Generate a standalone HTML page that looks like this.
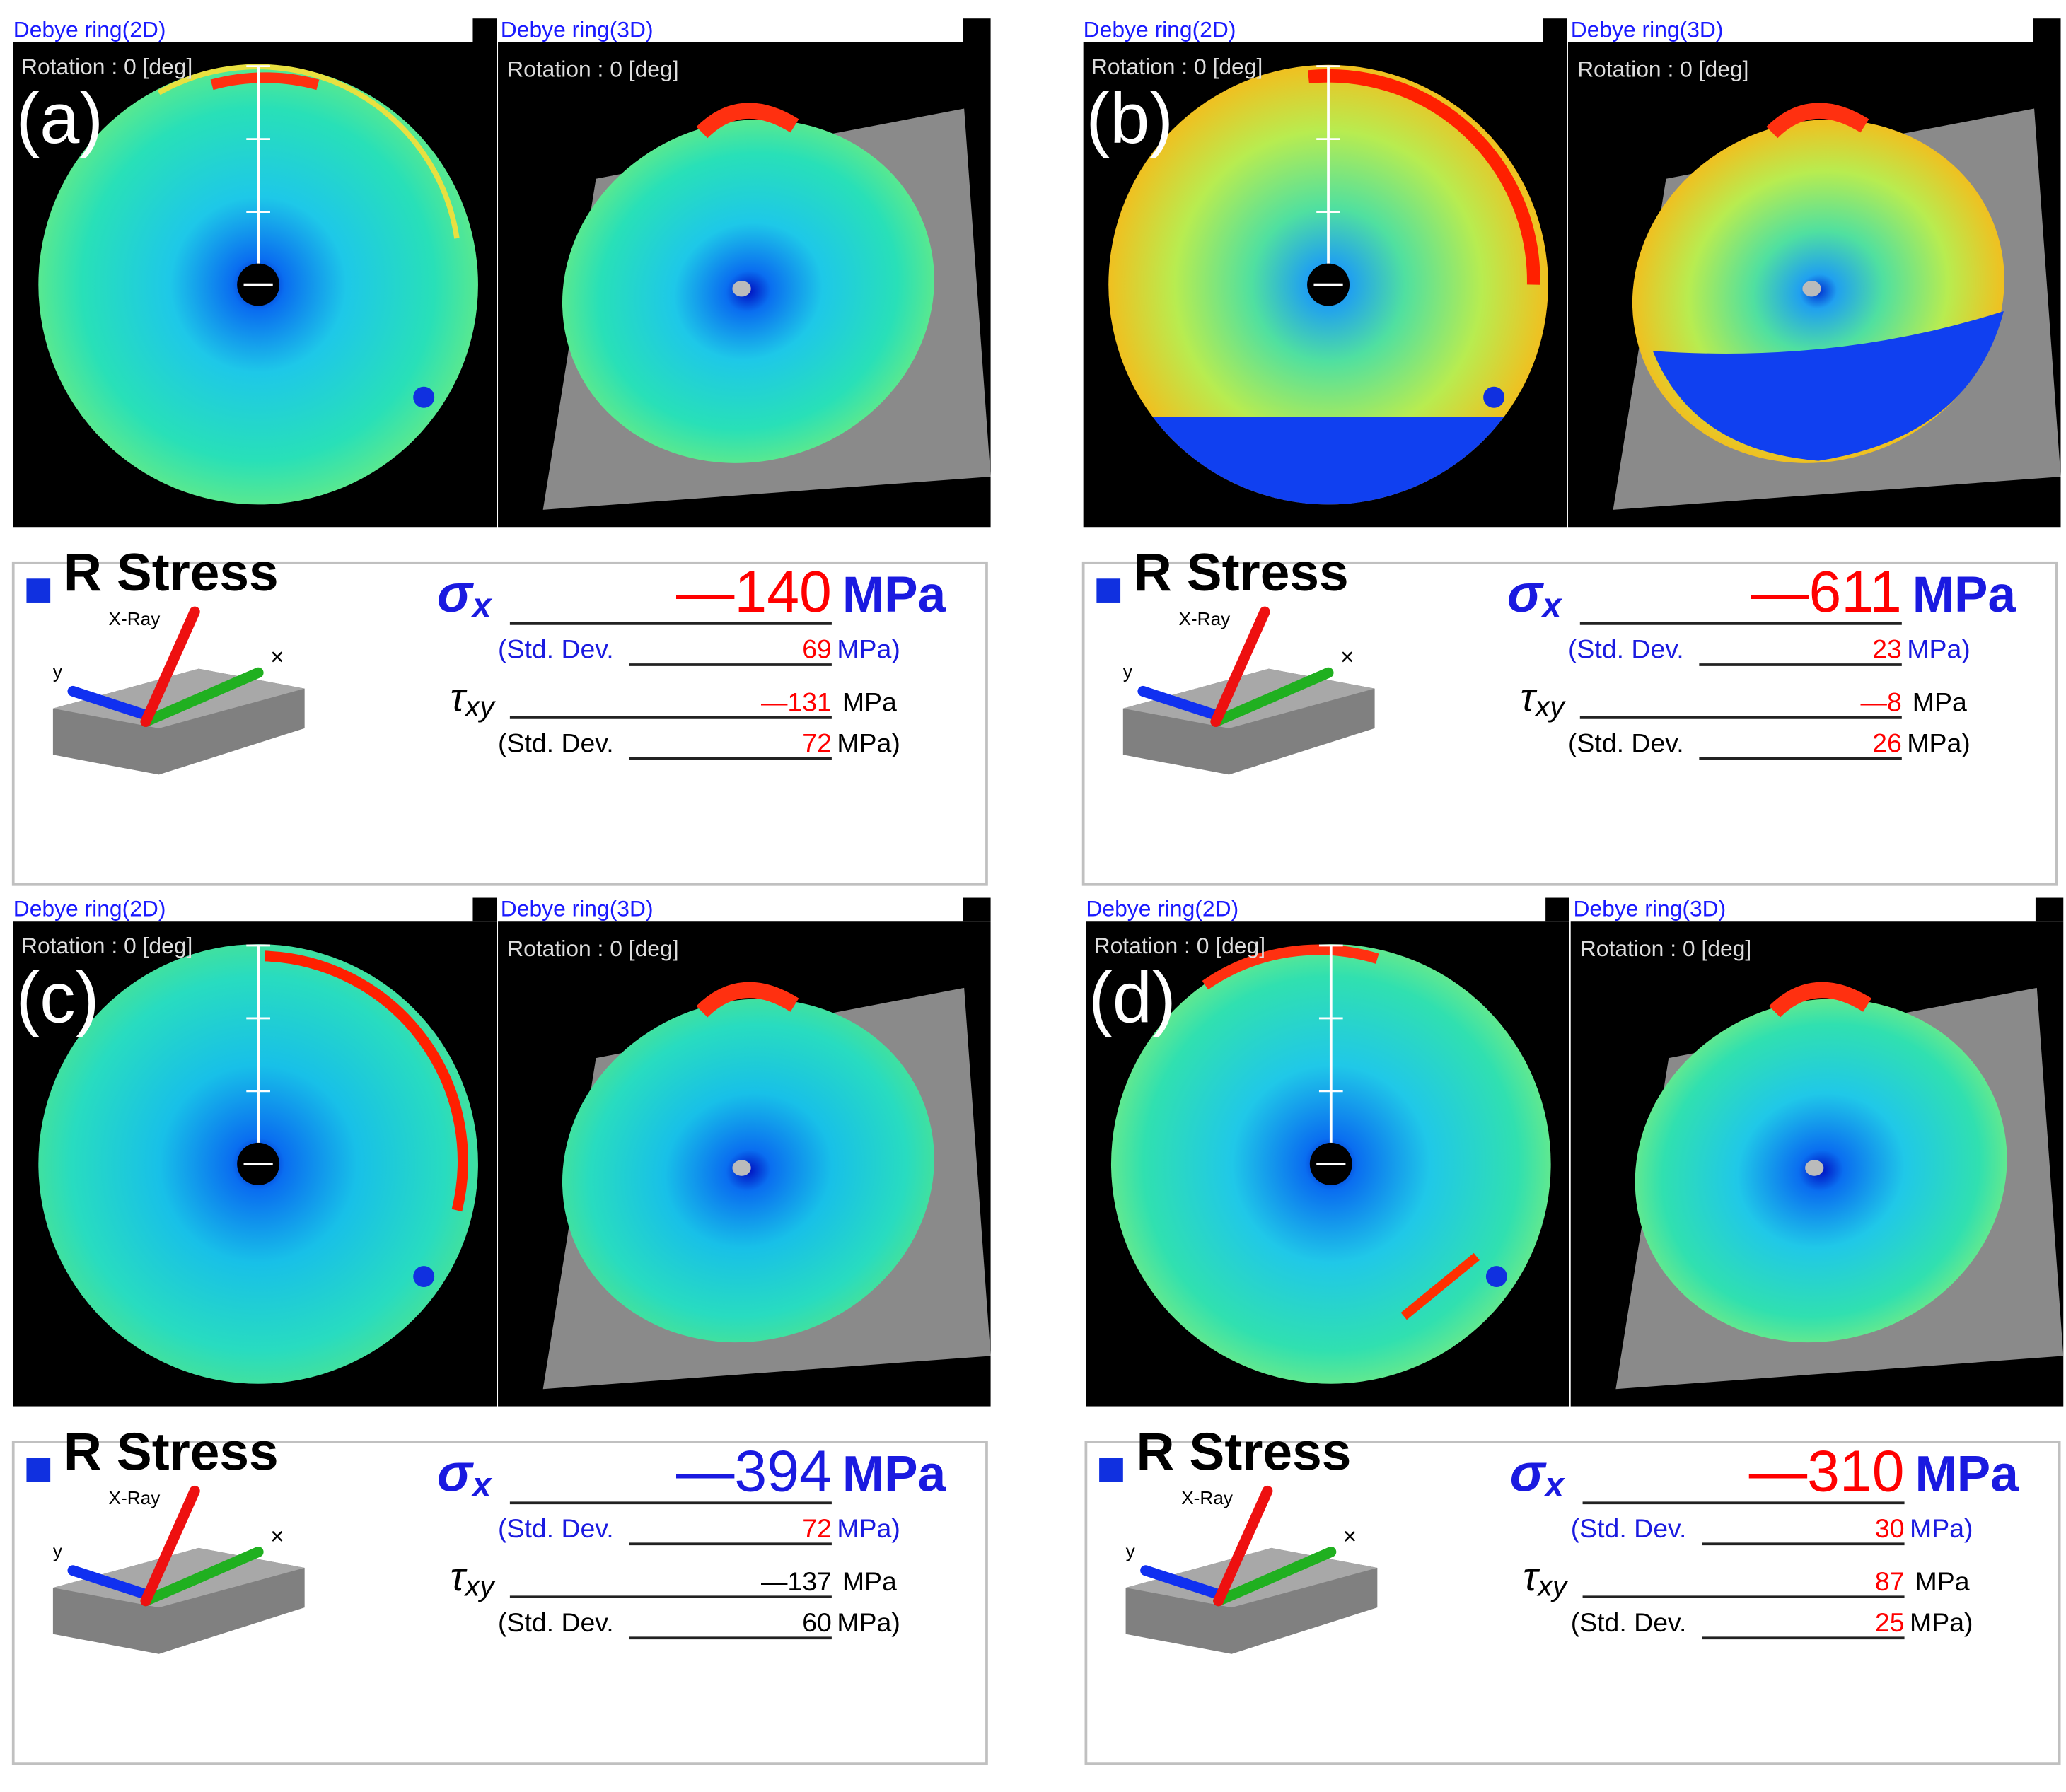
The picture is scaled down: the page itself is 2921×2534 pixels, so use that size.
<!DOCTYPE html>
<html><head><meta charset="utf-8"><style>
html,body{margin:0;padding:0;background:#fff;}
svg{display:block;}
text{font-family:"Liberation Sans",sans-serif;}
</style></head><body>
<svg id="fig" width="2921" height="2534" viewBox="0 0 1560 1353.3" preserveAspectRatio="none" xmlns="http://www.w3.org/2000/svg">
<defs>
<radialGradient id="g-a" cx="0.5" cy="0.5" r="0.5"><stop offset="0" stop-color="#0010c0"/><stop offset="0.12" stop-color="#0a6ef0"/><stop offset="0.4" stop-color="#1ec8e8"/><stop offset="0.8" stop-color="#28e0b8"/><stop offset="1" stop-color="#58e890"/></radialGradient>
<radialGradient id="g-b" cx="0.5" cy="0.5" r="0.5"><stop offset="0" stop-color="#0030d0"/><stop offset="0.1" stop-color="#20a0f0"/><stop offset="0.35" stop-color="#50e0a0"/><stop offset="0.7" stop-color="#b8ec50"/><stop offset="1" stop-color="#f0c020"/></radialGradient>
<radialGradient id="g-c" cx="0.5" cy="0.5" r="0.5"><stop offset="0" stop-color="#0010c0"/><stop offset="0.12" stop-color="#0a6ef0"/><stop offset="0.45" stop-color="#18c0e8"/><stop offset="0.85" stop-color="#28dcc0"/><stop offset="1" stop-color="#40e0a0"/></radialGradient>
<radialGradient id="g-d" cx="0.5" cy="0.5" r="0.5"><stop offset="0" stop-color="#0010c0"/><stop offset="0.12" stop-color="#0a6ef0"/><stop offset="0.45" stop-color="#20c8e8"/><stop offset="0.85" stop-color="#30e0b0"/><stop offset="1" stop-color="#60e890"/></radialGradient>
</defs>
</svg>
<script>
const labels=["(a)","(b)","(c)","(d)"];
const sigmaVals=[-140,-611,-394,-310];
const sigmaStd=[69,23,72,30];
const tauVals=[-131,-8,-137,87];
const tauStd=[72,26,60,25];
const offX=[0,808,0,810];
const offY=[0,0,664,664];
const sigmaColor=["#ff0000","#ff0000","#1a1ae0","#ff0000"];
const NS="http://www.w3.org/2000/svg";
const svg=document.getElementById('fig');
function mk(tag,attrs,parent,txt){const e=document.createElementNS(NS,tag);for(const k in attrs)e.setAttribute(k,attrs[k]);if(txt!==undefined)e.textContent=txt;(parent||svg).appendChild(e);return e;}
function fmt(v){return v<0?"\u2014"+Math.abs(v):String(v);}
for(let i=0;i<4;i++){
 const g=mk('g',{transform:`translate(${offX[i]},${offY[i]})`});
 
 
 const t2=mk('text',{x:10,y:28,'font-size':17,fill:'#1a1aff'},g,'Debye ring(2D)');
 
 mk('rect',{x:357,y:14,width:18,height:18,fill:'#000'},g);
 const b2=mk('rect',{x:10,y:32,width:365,height:366,fill:'#000'},g);
 
 mk('circle',{cx:195,cy:215,r:166,fill:`url(#g-${"abcd"[i]})`},g);
 if(i===1){mk('path',{d:'M 62.5 315 L 327.5 315 A 166 166 0 0 1 62.5 315 Z',fill:'#1040f0'},g);}
 if(i===0){mk('path',{d:'M 160 64 A 152 152 0 0 1 240 64',stroke:'#ff3010','stroke-width':8,fill:'none'},g);mk('path',{d:'M 120 70 A 152 152 0 0 1 345 180',stroke:'#e8e040','stroke-width':4,fill:'none'},g);}
 if(i===1)mk('path',{d:'M 180 58 A 155 155 0 0 1 350 215',stroke:'#ff2000','stroke-width':10,fill:'none'},g);
 if(i===2)mk('path',{d:'M 200 58 A 155 155 0 0 1 345 250',stroke:'#ff2000','stroke-width':8,fill:'none'},g);
 if(i===3){mk('path',{d:'M 100 80 A 150 150 0 0 1 230 60',stroke:'#ff3010','stroke-width':8,fill:'none'},g);mk('path',{d:'M 250 330 L 305 285',stroke:'#ff3000','stroke-width':7,fill:'none'},g);}
 mk('circle',{cx:320,cy:300,r:8,fill:'#1030e0'},g);
 mk('line',{x1:195,y1:50,x2:195,y2:215,stroke:'#fff','stroke-width':2},g);
 [50,105,160].forEach(y=>mk('line',{x1:186,y1:y,x2:204,y2:y,stroke:'#fff','stroke-width':1.5},g));
 mk('circle',{cx:195,cy:215,r:16,fill:'#000'},g);
 mk('line',{x1:184,y1:215,x2:206,y2:215,stroke:'#fff','stroke-width':2},g);
 mk('text',{x:16,y:56,'font-size':17,fill:'#ddd'},g,'Rotation : 0 [deg]');
 const lb=mk('text',{x:12,y:108,'font-size':54,fill:'#fff','font-family':'Liberation Serif, serif'},g,labels[i]);
 
 const t3=mk('text',{x:378,y:28,'font-size':17,fill:'#1a1aff'},g,'Debye ring(3D)');
 
 mk('rect',{x:727,y:14,width:21,height:18,fill:'#000'},g);
 const b3=mk('rect',{x:376,y:32,width:372,height:366,fill:'#000'},g);
 
 mk('polygon',{points:'450,135 728,82 748,360 410,385',fill:'#8a8a8a'},g);
 mk('ellipse',{cx:565,cy:220,rx:142,ry:128,transform:'rotate(-20 565 220)',fill:`url(#g-${"abcd"[i]})`},g);
 if(i===1)mk('path',{d:'M 440 265 Q 580 275 705 235 Q 680 330 565 348 Q 470 340 440 265 Z',fill:'#1040f0'},g);
 mk('path',{d:'M 530 100 Q 560 70 600 95',stroke:'#ff3010','stroke-width':12,fill:'none'},g);
 mk('ellipse',{cx:560,cy:218,rx:7,ry:6,fill:'#bbb'},g);
 mk('text',{x:383,y:58,'font-size':17,fill:'#ddd'},g,'Rotation : 0 [deg]');
 const sb=mk('rect',{x:10,y:425,width:735,height:243,fill:'#fff',stroke:'#c0c0c0','stroke-width':2},g);
 
 mk('rect',{x:20,y:437,width:18,height:18,fill:'#1030e0'},g);
 mk('text',{x:48,y:446,'font-size':40,fill:'#000','font-weight':'bold'},g,'R Stress');
 mk('polygon',{points:'40,535 150,505 230,520 230,550 120,585 40,570',fill:'#808080'},g);
 mk('polygon',{points:'40,535 120,550 230,520 150,505',fill:'#a8a8a8'},g);
 mk('line',{x1:55,y1:522,x2:110,y2:540,stroke:'#1030f0','stroke-width':8,'stroke-linecap':'round'},g);
 mk('line',{x1:110,y1:545,x2:195,y2:508,stroke:'#20b020','stroke-width':8,'stroke-linecap':'round'},g);
 mk('line',{x1:110,y1:545,x2:147,y2:462,stroke:'#ee1010','stroke-width':8,'stroke-linecap':'round'},g);
 mk('text',{x:82,y:472,'font-size':14,fill:'#000'},g,'X-Ray');
 mk('text',{x:40,y:512,'font-size':14,fill:'#000'},g,'y');
 mk('text',{x:204,y:502,'font-size':18,fill:'#000'},g,'\u00d7');
 const sx=mk('text',{x:330,y:462,'font-size':40,fill:'#1a1ae0','font-style':'italic','font-weight':'bold','font-family':'Liberation Serif, serif'},g,'\u03c3');
 mk('tspan',{'font-size':26,dy:4},sx,'x');
 [[385,471],[475,502],[385,542],[475,573]].forEach(p=>mk('line',{x1:p[0],y1:p[1],x2:628,y2:p[1],stroke:'#222','stroke-width':2},g));
 const sv=mk('text',{x:628,y:462,'font-size':44,fill:sigmaColor[i],'text-anchor':'end'},g,fmt(sigmaVals[i]));
 
 mk('text',{x:636,y:462,'font-size':38,fill:'#1a1ae0','font-weight':'bold'},g,'MPa');
 mk('text',{x:376,y:497,'font-size':20,fill:'#1a1ae0'},g,'(Std. Dev.');
 mk('text',{x:628,y:497,'font-size':20,fill:'#ff0000','text-anchor':'end'},g,String(sigmaStd[i]));
 mk('text',{x:632,y:497,'font-size':20,fill:'#1a1ae0'},g,'MPa)');
 const tx=mk('text',{x:340,y:537,'font-size':30,fill:'#000','font-style':'italic','font-family':'Liberation Serif, serif'},g,'\u03c4');
 mk('tspan',{'font-size':22,dy:4},tx,'xy');
 mk('text',{x:628,y:537,'font-size':20,fill:(i===2?'#000':'#ff0000'),'text-anchor':'end'},g,fmt(tauVals[i]));
 mk('text',{x:636,y:537,'font-size':20,fill:'#000'},g,'MPa');
 mk('text',{x:376,y:568,'font-size':20,fill:'#000'},g,'(Std. Dev.');
 mk('text',{x:628,y:568,'font-size':20,fill:(i===2?'#000':'#ff0000'),'text-anchor':'end'},g,String(tauStd[i]));
 mk('text',{x:632,y:568,'font-size':20,fill:'#000'},g,'MPa)');
}
</script>
</body></html>
